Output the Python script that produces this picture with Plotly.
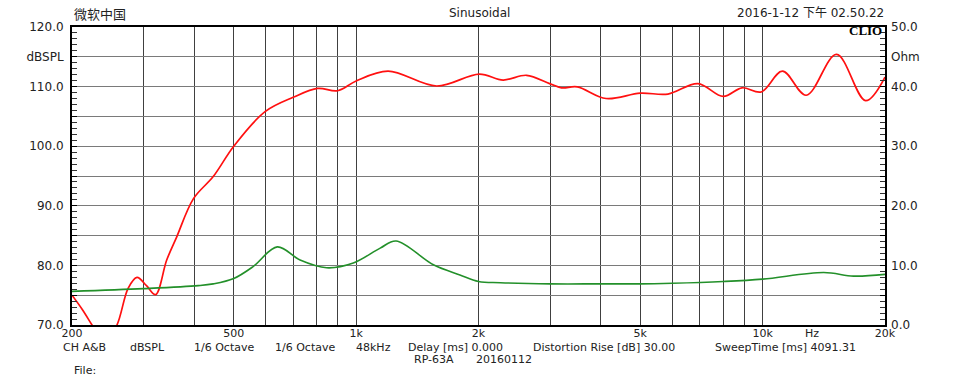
import math
import plotly.graph_objects as go

# ---- data ----
freq_spl = [200, 212, 224, 240, 258, 275, 289, 305, 321, 342, 362, 398, 445, 500,
            597, 700, 804, 900, 1000, 1198, 1578, 2009, 2300, 2626, 2992, 3200,
            3500, 4120, 5000, 5850, 6930, 8000, 8900, 9920, 11190, 12800, 15200,
            17920, 20000]
spl_db = [75.0, 72.6, 70.0, 66.8, 70.0, 76.2, 78.0, 76.6, 75.1, 80.9, 84.8, 91.2,
          94.9, 100.0, 105.8, 108.2, 109.7, 109.3, 110.95, 112.6, 110.1, 112.1,
          111.1, 111.9, 110.5, 109.8, 109.95, 108.0, 108.9, 108.75, 110.5, 108.35,
          109.8, 109.1, 112.6, 108.55, 115.4, 107.65, 111.6]

freq_imp = [200, 300, 409, 445, 500, 558, 640, 728, 846, 984, 1146, 1254, 1549,
            1800, 2000, 2265, 3000, 4000, 5000, 6000, 8000, 10000, 14140, 16740,
            20000]
imp_ohm = [5.65, 6.1, 6.6, 6.9, 7.8, 9.8, 13.1, 10.9, 9.6, 10.4, 12.9, 14.1, 10.1,
           8.4, 7.3, 7.1, 6.9, 6.9, 6.9, 7.0, 7.3, 7.7, 8.8, 8.2, 8.5]

x_grid = [200, 300, 400, 500, 600, 700, 800, 900, 1000, 2000, 3000, 4000, 5000,
          6000, 7000, 8000, 9000, 10000, 20000]
x_labels = {200: "200", 500: "500", 1000: "1k", 2000: "2k", 5000: "5k",
            10000: "10k", 20000: "20k"}

left_vals = [70, 75, 80, 85, 90, 95, 100, 105, 110, 115, 120]
left_text = ["70.0", "", "80.0", "", "90.0", "", "100.0", "", "110.0", "dBSPL", "120.0"]
right_vals = [0, 5, 10, 15, 20, 25, 30, 35, 40, 45, 50]
right_text = ["0.0", "", "10.0", "", "20.0", "", "30.0", "", "40.0", "Ohm", "50.0"]

header_left = "微软中国"
header_mid = "Sinusoidal"
header_right = "2016-1-12 下午 02.50.22"
footer_items = [("CH A&B", 62), ("dBSPL", 129), ("1/6 Octave", 193),
                ("1/6 Octave", 274), ("48kHz", 355), ("Delay [ms] 0.000", 407),
                ("Distortion Rise [dB] 30.00", 532),
                ("SweepTime [ms] 4091.31", 714)]
footer_line2 = [("RP-63A", 413), ("20160112", 475)]
footer_line3 = [("File:", 72.5)]

FONT = "DejaVu Sans, Arial, sans-serif"
W, H = 958, 379
L, R, T, B = 72, 73, 27, 54
PW, PH = W - L - R, H - T - B


def px_x(x):
    return (x - L) / PW


def px_y(y):
    return (H - B - y) / PH


fig = go.Figure()
fig.add_trace(go.Scatter(x=freq_imp, y=imp_ohm, yaxis="y2", mode="lines",
                         line=dict(color="#23902a", width=1.6, shape="spline"),
                         hoverinfo="skip", showlegend=False))
fig.add_trace(go.Scatter(x=freq_spl, y=spl_db, mode="lines",
                         line=dict(color="#ff1010", width=1.7, shape="spline"),
                         hoverinfo="skip", showlegend=False))

fig.update_layout(
    width=W, height=H,
    margin=dict(l=L, r=R, t=T, b=B, pad=0),
    paper_bgcolor="white", plot_bgcolor="white",
    font=dict(family=FONT, size=12, color="#222"),
    xaxis=dict(type="log", range=[math.log10(200), math.log10(20000)],
               tickmode="array", tickvals=x_grid,
               ticktext=[x_labels.get(v, "") for v in x_grid],
               showgrid=True, gridcolor="#404040", gridwidth=1.4,
               showline=True, linecolor="black", linewidth=2, mirror=True,
               ticks="", tickfont=dict(size=11), zeroline=False,
               ticklabelstandoff=-3),
    yaxis=dict(range=[70, 120], tickmode="array", tickvals=left_vals,
               ticktext=left_text, showgrid=True, gridcolor="#7a7a7a",
               gridwidth=1, showline=True, linecolor="black", linewidth=2,
               mirror=True, ticks="inside", ticklen=5, tickcolor="black",
               minor=dict(tickmode="linear", tick0=70, dtick=1, ticks="inside",
                          ticklen=5, tickcolor="#333", showgrid=False),
               zeroline=False, tickfont=dict(size=12), ticklabelstandoff=4),
    yaxis2=dict(range=[0, 50], overlaying="y", side="right", tickmode="array",
                tickvals=right_vals, ticktext=right_text, showgrid=False,
                ticks="inside", ticklen=5, tickcolor="black",
                minor=dict(tickmode="linear", tick0=0, dtick=1, ticks="inside",
                           ticklen=5, tickcolor="#333", showgrid=False),
                zeroline=False, tickfont=dict(size=12), ticklabelstandoff=5),
)

ann = []
ann.append(dict(text=header_left, x=px_x(72), y=px_y(13.5), xref="paper", yref="paper",
                xanchor="left", yanchor="middle", showarrow=False,
                font=dict(family="Noto Sans CJK SC", size=13, color="#222")))
ann.append(dict(text=header_mid, x=px_x(479.5), y=px_y(13.5), xref="paper", yref="paper",
                xanchor="center", yanchor="middle", showarrow=False,
                font=dict(size=12)))
ann.append(dict(text=header_right, x=px_x(886), y=px_y(13.5), xref="paper", yref="paper",
                xanchor="right", yanchor="middle", showarrow=False,
                font=dict(family="DejaVu Sans, Noto Sans CJK SC", size=12)))
ann.append(dict(text="<b>CLIO</b>", x=px_x(884), y=px_y(30.5), xref="paper", yref="paper",
                xanchor="right", yanchor="middle", showarrow=False,
                font=dict(family="Liberation Serif, serif", size=13, color="black")))
ann.append(dict(text="Hz", x=math.log10(13230), y=px_y(333.5), xref="x", yref="paper",
                xanchor="center", yanchor="middle", showarrow=False, borderpad=0,
                font=dict(size=11)))
for txt, xp in footer_items:
    ann.append(dict(text=txt, x=px_x(xp), y=px_y(347), xref="paper", yref="paper",
                    xanchor="left", yanchor="middle", showarrow=False, borderpad=0,
                    font=dict(size=11)))
for txt, xp in footer_line2:
    ann.append(dict(text=txt, x=px_x(xp), y=px_y(359.5), xref="paper", yref="paper",
                    xanchor="left", yanchor="middle", showarrow=False, borderpad=0,
                    font=dict(size=11)))
for txt, xp in footer_line3:
    ann.append(dict(text=txt, x=px_x(xp), y=px_y(370), xref="paper", yref="paper",
                    xanchor="left", yanchor="middle", showarrow=False, borderpad=0,
                    font=dict(size=11)))
fig.update_layout(annotations=ann)

fig.write_html("out.html", config={"displayModeBar": False},
               post_script="document.body.style.margin='0';document.body.style.padding='0';")
